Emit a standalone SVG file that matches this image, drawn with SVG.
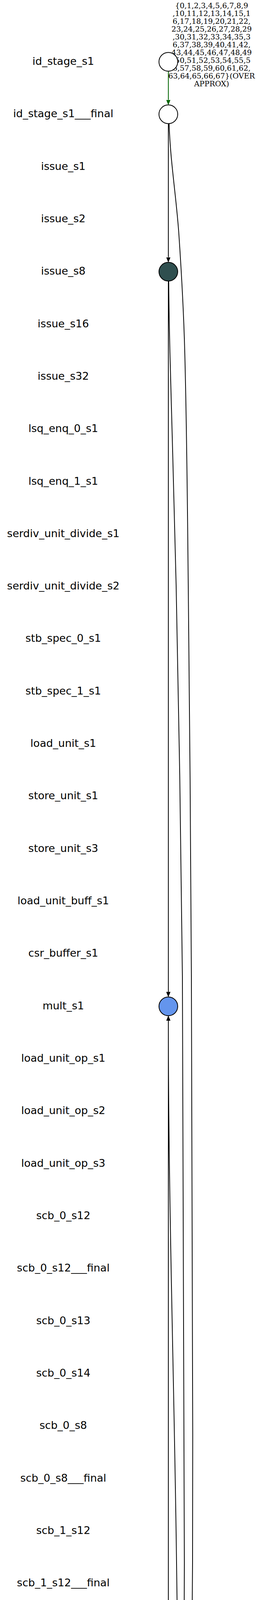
<svg xmlns="http://www.w3.org/2000/svg" width="658" height="6636" viewBox="0 0 658 6636">
<style>
.lbl{font-family:"DejaVu Sans","Liberation Sans",sans-serif;font-size:27px;text-anchor:middle;fill:#000}
.elbl{font-family:"DejaVu Serif","Liberation Serif",serif;font-size:19px;text-anchor:middle;fill:#000}
.n{stroke:#000;stroke-width:2}
.w{fill:#ffffff}
.d{fill:#2f4f4f}
.b{fill:#6495ed}
.e{fill:none;stroke:#000;stroke-width:2}
.eg{fill:none;stroke:#006400;stroke-width:2}
</style>
<defs>
<marker id="ah" viewBox="0 0 13.5 11" refX="0" refY="5.5" markerWidth="13.5" markerHeight="11" markerUnits="userSpaceOnUse" orient="auto"><path d="M0,0 L13.5,5.5 L0,11 z" fill="#000"/></marker>
<marker id="ahg" viewBox="0 0 13.5 11" refX="0" refY="5.5" markerWidth="13.5" markerHeight="11" markerUnits="userSpaceOnUse" orient="auto"><path d="M0,0 L13.5,5.5 L0,11 z" fill="#006400"/></marker>
</defs>
<rect x="0" y="0" width="658" height="6636" fill="#ffffff"/>
<g id="edges">
<path class="eg" d="M431,182.3 L431,255.6" marker-end="url(#ahg)"/>
<path class="e" d="M431,316.6 L431,658.6" marker-end="url(#ah)"/>
<path class="e" d="M433,317 C435.8,411.3 451.6,505.7 458,600 C464.8,700 470.3,800 473,900 C478.4,1100 479.9,1300 482,1500 C485.5,1833 488.5,2167 490,2500 C492.2,3000 494.4,3500 493,4000 C491.7,4450 486.5,4900 482,5350 C481.2,5433 480.2,5517 477,5600 C473.5,5693 470.3,5787 462,5880 C457.5,5930 446.1,5980 438.7,6030" marker-end="url(#ah)"/>
<path class="e" d="M431,719.6 L431,2539.2" marker-end="url(#ah)"/>
<path class="e" d="M432,719.6 C432.3,779.7 433.6,839.9 435,900 C439.8,1100 447,1300 451,1500 C457.7,1833 464.2,2167 467,2500 C471.2,3000 472,3500 472,4000 C472,4450 468.4,4900 467,5350 C466.8,5433 466.8,5517 467,5600 C467.2,5693 466.1,5787 468,5880 C468.8,5920 475,5960 475,6000 C475,6055.5 462.6,6111.1 444.5,6166.6" marker-end="url(#ah)"/>
<path class="e" d="M431,2600.2 L431,5494.5" marker-end="url(#ah)"/>
<path class="e" d="M441.5,6179 L444.5,6166.6 C462.6,6111.1 475,6055.5 475,6000 C475,5960 468.8,5920 468,5880 C466.1,5787 467.2,5693 467,5600 C466.8,5517 466.8,5433 467,5350 C467,4900 457.9,4450 452,4000 C446,3538 431,3075 431,2613.2" marker-end="url(#ah)"/>
<path class="eg" d="M431,5555.5 L431,5628.8" marker-end="url(#ahg)"/>
<path class="e" d="M431,5689.8 L431,5763.2" marker-end="url(#ah)"/>
<path class="eg" d="M431,6092.8 L431,6166.1" marker-end="url(#ahg)"/>
<path class="e" d="M423,6179 C411,6140 388,6070 383,5990 C379,5930 376,5900 377,5860 C378,5790 388,5700 398,5650 C404,5620 411,5590 418.2,5567.1" marker-end="url(#ah)"/>
<text class="elbl"><tspan x="541.8" y="20.7">{0,1,2,3,4,5,6,7,8,9</tspan><tspan x="541.8" y="40.7">,10,11,12,13,14,15,1</tspan><tspan x="541.8" y="60.7">6,17,18,19,20,21,22,</tspan><tspan x="541.8" y="80.7">23,24,25,26,27,28,29</tspan><tspan x="541.8" y="100.7">,30,31,32,33,34,35,3</tspan><tspan x="541.8" y="120.7">6,37,38,39,40,41,42,</tspan><tspan x="541.8" y="140.7">43,44,45,46,47,48,49</tspan><tspan x="541.8" y="160.7">,50,51,52,53,54,55,5</tspan><tspan x="541.8" y="180.7">6,57,58,59,60,61,62,</tspan><tspan x="541.8" y="200.7">63,64,65,66,67}(OVER</tspan><tspan x="541.8" y="220.7">APPROX)</tspan></text>
<text class="elbl"><tspan x="537.5" y="5495">{0,1,2,3,4,5,6,7,8,9</tspan><tspan x="537.5" y="5515">,10,11,12,13,14,15,1</tspan><tspan x="537.5" y="5535">6,17,18,19,20,21,22,</tspan><tspan x="537.5" y="5555">23,24,25,26,27,28,29</tspan><tspan x="537.5" y="5575">,30,31,32,33,34}(OVE</tspan><tspan x="537.5" y="5595">RAPPROX)</tspan></text>
<text class="elbl" style="text-anchor:end" x="429.5" y="6131.5">{0,1}(OVERAPPROX)</text>
</g>
<g id="id_stage_s1"><text class="lbl" x="162" y="165.8">id_stage_s1</text><circle class="n w" cx="431" cy="158.3" r="24"/></g>
<g id="id_stage_s1___final"><text class="lbl" x="162" y="300.1">id_stage_s1___final</text><circle class="n w" cx="431" cy="292.6" r="24"/></g>
<g id="issue_s1"><text class="lbl" x="162" y="434.5">issue_s1</text></g>
<g id="issue_s2"><text class="lbl" x="162" y="568.8">issue_s2</text></g>
<g id="issue_s8"><text class="lbl" x="162" y="703.1">issue_s8</text><circle class="n d" cx="431" cy="695.6" r="24"/></g>
<g id="issue_s16"><text class="lbl" x="162" y="837.5">issue_s16</text></g>
<g id="issue_s32"><text class="lbl" x="162" y="971.8">issue_s32</text></g>
<g id="lsq_enq_0_s1"><text class="lbl" x="162" y="1106.1">lsq_enq_0_s1</text></g>
<g id="lsq_enq_1_s1"><text class="lbl" x="162" y="1240.5">lsq_enq_1_s1</text></g>
<g id="serdiv_unit_divide_s1"><text class="lbl" x="162" y="1374.8">serdiv_unit_divide_s1</text></g>
<g id="serdiv_unit_divide_s2"><text class="lbl" x="162" y="1509.1">serdiv_unit_divide_s2</text></g>
<g id="stb_spec_0_s1"><text class="lbl" x="162" y="1643.4">stb_spec_0_s1</text></g>
<g id="stb_spec_1_s1"><text class="lbl" x="162" y="1777.8">stb_spec_1_s1</text></g>
<g id="load_unit_s1"><text class="lbl" x="162" y="1912.1">load_unit_s1</text></g>
<g id="store_unit_s1"><text class="lbl" x="162" y="2046.4">store_unit_s1</text></g>
<g id="store_unit_s3"><text class="lbl" x="162" y="2180.8">store_unit_s3</text></g>
<g id="load_unit_buff_s1"><text class="lbl" x="162" y="2315.1">load_unit_buff_s1</text></g>
<g id="csr_buffer_s1"><text class="lbl" x="162" y="2449.4">csr_buffer_s1</text></g>
<g id="mult_s1"><text class="lbl" x="162" y="2583.7">mult_s1</text><circle class="n b" cx="431" cy="2576.2" r="24"/></g>
<g id="load_unit_op_s1"><text class="lbl" x="162" y="2718.1">load_unit_op_s1</text></g>
<g id="load_unit_op_s2"><text class="lbl" x="162" y="2852.4">load_unit_op_s2</text></g>
<g id="load_unit_op_s3"><text class="lbl" x="162" y="2986.7">load_unit_op_s3</text></g>
<g id="scb_0_s12"><text class="lbl" x="162" y="3121.1">scb_0_s12</text></g>
<g id="scb_0_s12___final"><text class="lbl" x="162" y="3255.4">scb_0_s12___final</text></g>
<g id="scb_0_s13"><text class="lbl" x="162" y="3389.7">scb_0_s13</text></g>
<g id="scb_0_s14"><text class="lbl" x="162" y="3524">scb_0_s14</text></g>
<g id="scb_0_s8"><text class="lbl" x="162" y="3658.4">scb_0_s8</text></g>
<g id="scb_0_s8___final"><text class="lbl" x="162" y="3792.7">scb_0_s8___final</text></g>
<g id="scb_1_s12"><text class="lbl" x="162" y="3927">scb_1_s12</text></g>
<g id="scb_1_s12___final"><text class="lbl" x="162" y="4061.4">scb_1_s12___final</text></g>
<g id="scb_1_s13"><text class="lbl" x="162" y="4195.7">scb_1_s13</text></g>
<g id="scb_1_s14"><text class="lbl" x="162" y="4330">scb_1_s14</text></g>
<g id="scb_1_s8"><text class="lbl" x="162" y="4464.4">scb_1_s8</text></g>
<g id="scb_1_s8___final"><text class="lbl" x="162" y="4598.7">scb_1_s8___final</text></g>
<g id="scb_2_s12"><text class="lbl" x="162" y="4733">scb_2_s12</text></g>
<g id="scb_2_s12___final"><text class="lbl" x="162" y="4867.3">scb_2_s12___final</text></g>
<g id="scb_2_s13"><text class="lbl" x="162" y="5001.7">scb_2_s13</text></g>
<g id="scb_2_s14"><text class="lbl" x="162" y="5136">scb_2_s14</text></g>
<g id="scb_2_s8"><text class="lbl" x="162" y="5270.3">scb_2_s8</text></g>
<g id="scb_2_s8___final"><text class="lbl" x="162" y="5404.7">scb_2_s8___final</text></g>
<g id="scb_3_s12"><text class="lbl" x="162" y="5539">scb_3_s12</text><circle class="n w" cx="431" cy="5531.5" r="24"/></g>
<g id="scb_3_s12___final"><text class="lbl" x="162" y="5673.3">scb_3_s12___final</text><circle class="n w" cx="431" cy="5665.8" r="24"/></g>
<g id="scb_3_s13"><text class="lbl" x="162" y="5807.7">scb_3_s13</text><circle class="n w" cx="431" cy="5800.2" r="24"/></g>
<g id="scb_3_s14"><text class="lbl" x="162" y="5942">scb_3_s14</text></g>
<g id="scb_3_s8"><text class="lbl" x="162" y="6076.3">scb_3_s8</text><circle class="n d" cx="431" cy="6068.8" r="24"/></g>
<g id="scb_3_s8___final"><text class="lbl" x="162" y="6210.6">scb_3_s8___final</text><circle class="n b" cx="431" cy="6203.1" r="24"/></g>
<g id="stb_com_0_s1"><text class="lbl" x="162" y="6345">stb_com_0_s1</text></g>
<g id="stb_com_1_s1"><text class="lbl" x="162" y="6479.3">stb_com_1_s1</text></g>
<g id="mem_req_s1"><text class="lbl" x="162" y="6613.6">mem_req_s1</text></g>
</svg>
